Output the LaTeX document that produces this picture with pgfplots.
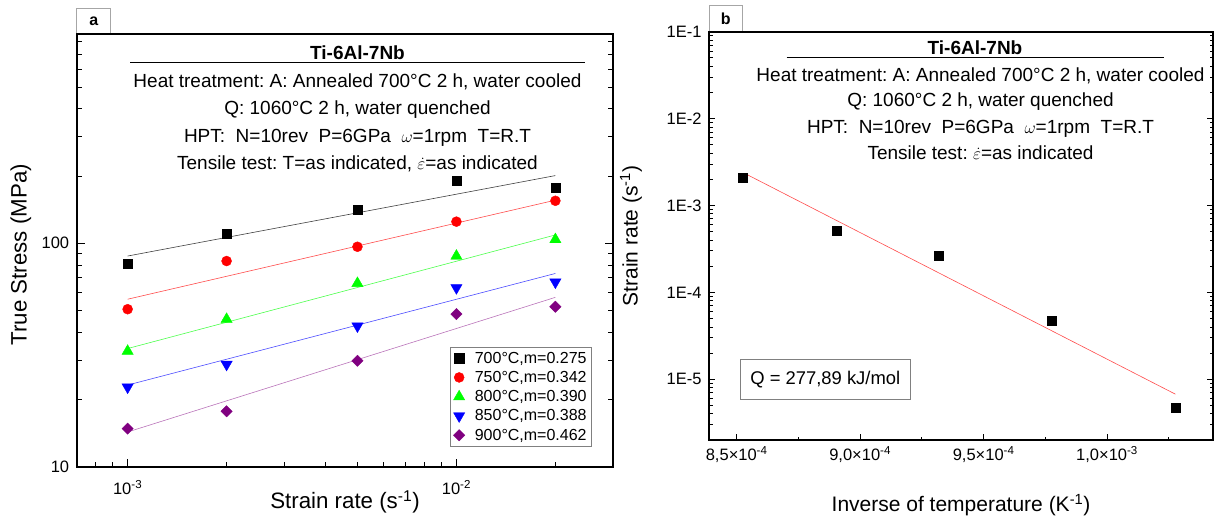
\documentclass[border=0pt]{standalone}
\usepackage{fontspec}
\setmainfont{Liberation Sans}
\usepackage{pgfplots}
\pgfplotsset{compat=1.18}
\frenchspacing

\definecolor{cred}{RGB}{255,0,0}
\definecolor{cgreen}{RGB}{0,255,0}
\definecolor{cblue}{RGB}{0,0,255}
\definecolor{cpurple}{RGB}{128,0,128}
\newcommand{\sups}[1]{\textsuperscript{#1}}

\pgfplotsset{
  panel/.style={
    scale only axis, anchor=south west,
    tick align=inside, xtick pos=left, ytick pos=both,
    axis line style={line width=1.8pt},
    tick style={black, line width=0.9pt},
    major tick length=8pt, minor tick length=5pt,
    ticklabel style={font=\fontsize{16.5}{18}\selectfont},
    xticklabel style={yshift=-3pt},
    yticklabel style={xshift=-4pt},
    label style={font=\fontsize{21}{24}\selectfont},
  },
}

\begin{document}
\begin{tikzpicture}
\useasboundingbox (0pt,0pt) rectangle (1215pt,521pt);

% panel a
\begin{axis}[panel,
  at={(76.7pt,54.3pt)}, width=536.6pt, height=432.7pt,
  xmode=log, ymode=log,
  xmin=7e-4, xmax=3e-2, ymin=10, ymax=865,
  xtick={1e-3,1e-2}, xticklabels={10\sups{-3},10\sups{-2}},
  minor xtick={8e-4,9e-4,2e-3,3e-3,4e-3,5e-3,6e-3,7e-3,8e-3,9e-3,2e-2,3e-2},
  ytick={10,100}, yticklabels={10,100},
  minor ytick={20,30,40,50,60,70,80,90,200,300,400,500,600,700,800},
  xticklabel style={yshift=-7pt},
  label style={font=\fontsize{22.3}{25}\selectfont},
  xlabel={Strain rate (s\sups{-1})},
  ylabel={True Stress (MPa)},
  xlabel style={at={(axis description cs:0.5,-0.081)}, anchor=center},
  ylabel style={at={(axis description cs:-0.104,0.49)}, anchor=center},
  legend cell align=left,
  legend image code/.code={\draw[mark repeat=2,mark phase=2]
    plot coordinates {(0pt,0pt) (9pt,0pt) (18pt,0pt)};},
  legend style={at={(rel axis cs:0.96,0.046)}, anchor=south east,
    draw=gray, font=\fontsize{16}{18}\selectfont, row sep=2.6pt, inner sep=3pt,
    /tikz/every odd column/.append style={column sep=8pt}},
]
\addplot[only marks, mark=square*, mark size=4.6pt, black]
  coordinates {(1e-3,81.3) (2e-3,110) (5e-3,141) (1e-2,190) (2e-2,177)};
\addlegendentry{700°C,m=0.275}
\addplot[forget plot, black!75, line width=0.6pt]
  coordinates {(1e-3,87.7) (2e-2,201)};

\addplot[only marks, mark=*, mark size=5pt, cred]
  coordinates {(1e-3,50.7) (2e-3,83.3) (5e-3,96.5) (1e-2,125) (2e-2,155)};
\addlegendentry{750°C,m=0.342}
\addplot[forget plot, cred!70, line width=0.6pt]
  coordinates {(1e-3,56.2) (2e-2,156)};

\addplot[only marks, mark=triangle*, mark size=6.5pt, cgreen]
  coordinates {(1e-3,32.9) (2e-3,45.7) (5e-3,66.2) (1e-2,87.7) (2e-2,104)};
\addlegendentry{800°C,m=0.390}
\addplot[forget plot, cgreen!70, line width=0.6pt]
  coordinates {(1e-3,33.8) (2e-2,109)};

\addplot[only marks, mark=triangle*, mark size=6.5pt, mark options={rotate=180}, cblue]
  coordinates {(1e-3,22.7) (2e-3,28.7) (5e-3,42.6) (1e-2,63.2) (2e-2,67.0)};
\addlegendentry{850°C,m=0.388}
\addplot[forget plot, cblue!70, line width=0.6pt]
  coordinates {(1e-3,23.2) (2e-2,73.3)};

\addplot[only marks, mark=square*, mark size=4pt, mark options={rotate=45}, cpurple]
  coordinates {(1e-3,14.8) (2e-3,17.7) (5e-3,29.8) (1e-2,48.2) (2e-2,52.0)};
\addlegendentry{900°C,m=0.462}
\addplot[forget plot, cpurple!55, line width=0.6pt]
  coordinates {(1e-3,14.3) (2e-2,57.3)};
\end{axis}

% panel b
\begin{axis}[panel,
  at={(709pt,81pt)}, width=504pt, height=408.3pt,
  ymode=log,
  xmin=8.388e-4, xmax=1.0429e-3, ymin=2e-6, ymax=1e-1,
  scaled x ticks=false,
  xtick={8.5e-4,9e-4,9.5e-4,1e-3},
  xticklabels={{8,5×10\sups{-4}},{9,0×10\sups{-4}},{9,5×10\sups{-4}},{1,0×10\sups{-3}}},
  minor xtick={8.75e-4,9.25e-4,9.75e-4,1.025e-3},
  ytick={1e-5,1e-4,1e-3,1e-2,1e-1},
  yticklabels={1E-5,1E-4,1E-3,1E-2,1E-1},
  minor ytick={3e-6,4e-6,5e-6,6e-6,7e-6,8e-6,9e-6,
    2e-5,3e-5,4e-5,5e-5,6e-5,7e-5,8e-5,9e-5,
    2e-4,3e-4,4e-4,5e-4,6e-4,7e-4,8e-4,9e-4,
    2e-3,3e-3,4e-3,5e-3,6e-3,7e-3,8e-3,9e-3,
    2e-2,3e-2,4e-2,5e-2,6e-2,7e-2,8e-2,9e-2},
  major tick length=6pt, minor tick length=3.5pt,
  xlabel={Inverse of temperature (K\sups{-1})},
  ylabel={Strain rate (s\sups{-1})},
  xlabel style={at={(axis description cs:0.5,-0.159)}, anchor=center},
  ylabel style={at={(axis description cs:-0.155,0.5)}, anchor=center},
]
\addplot[only marks, mark=square*, mark size=4.5pt, black]
  coordinates {(8.525e-4,2.08e-3) (8.905e-4,5.16e-4) (9.320e-4,2.61e-4) (9.775e-4,4.76e-5) (1.0277e-3,4.73e-6)};
\addplot[cred!70, line width=0.6pt]
  coordinates {(8.534e-4,2.33e-3) (1.0277e-3,6.73e-6)};
\end{axis}

\begin{scope}[x=1pt,y=1pt]
% tabs
\draw[gray!70, line width=0.6pt, fill=white] (76.7,487.6) |- (110.7,512.7) -- (110.7,487.6);
\node[font=\bfseries\fontsize{16}{18}\selectfont] at (93.7,500) {a};
\draw[gray!70, line width=0.6pt, fill=white] (709,490.2) |- (742.7,515.3) -- (742.7,490.2);
\node[font=\bfseries\fontsize{16}{18}\selectfont] at (725.8,502.5) {b};

\begin{scope}[every node/.style={anchor=base, font=\fontsize{19}{22}\selectfont}]
% annotations panel a
\node[font=\bfseries\fontsize{19}{22}\selectfont] at (357.5,461) {Ti-6Al-7Nb};
\draw[line width=1.5pt] (130,458.7) -- (585,458.7);
\node at (357.5,433) {Heat treatment: A: Annealed 700°C 2 h, water cooled};
\node at (357.5,406) {Q: 1060°C 2 h, water quenched};
\node at (357.5,378.5) {HPT:\ \ N=10rev\ \ P=6GPa\ \ $\omega$=1rpm\ \ T=R.T};
\node at (357.5,351) {Tensile test: T=as indicated, $\dot{\varepsilon}$=as indicated};

% annotations panel b
\node[font=\bfseries\fontsize{19}{22}\selectfont] at (975,466) {Ti-6Al-7Nb};
\draw[line width=1.5pt] (786.7,463.7) -- (1164,463.7);
\node at (980.5,439.3) {Heat treatment: A: Annealed 700°C 2 h, water cooled};
\node at (980.5,414.3) {Q: 1060°C 2 h, water quenched};
\node at (980.5,387.7) {HPT:\ \ N=10rev\ \ P=6GPa\ \ $\omega$=1rpm\ \ T=R.T};
\node at (980.5,361.7) {Tensile test: $\dot{\varepsilon}$=as indicated};
\end{scope}

\node[draw=gray, line width=0.6pt, minimum width=170.5pt, minimum height=40pt,
  font=\fontsize{18.4}{21}\selectfont] at (825.3,141.5) {Q = 277,89 kJ/mol};
\end{scope}
\end{tikzpicture}
\end{document}
